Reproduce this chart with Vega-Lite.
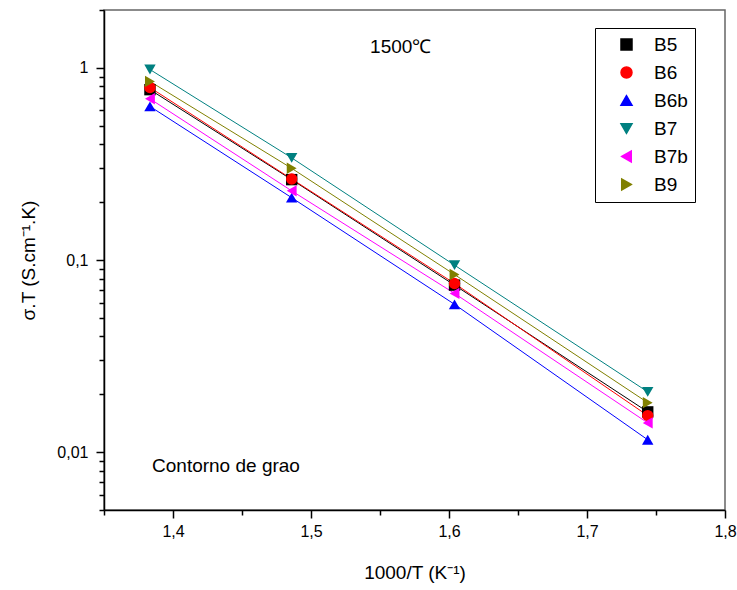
{
  "$schema": "https://vega.github.io/schema/vega-lite/v6.json",
  "width": 621,
  "height": 500,
  "autosize": "none",
  "padding": {"left": 104, "top": 10, "right": 12, "bottom": 80},
  "background": "white",
  "config": {
    "font": "Liberation Sans",
    "view": {"stroke": "#666666", "strokeWidth": 1.5},
    "axis": {"domainColor": "black", "domainWidth": 1.5, "tickColor": "black", "tickWidth": 1.5, "grid": false, "labelFont": "Liberation Sans", "titleFont": "Liberation Sans", "labelColor": "black", "titleColor": "black", "titleFontWeight": "normal"}
  },
  "datasets": {
    "pts": [
      {"s": "B5", "x": 1.3833, "y": 0.77}, {"s": "B5", "x": 1.486, "y": 0.262}, {"s": "B5", "x": 1.604, "y": 0.074}, {"s": "B5", "x": 1.744, "y": 0.0162},
      {"s": "B6", "x": 1.3833, "y": 0.79}, {"s": "B6", "x": 1.486, "y": 0.264}, {"s": "B6", "x": 1.604, "y": 0.0755}, {"s": "B6", "x": 1.744, "y": 0.0155},
      {"s": "B6b", "x": 1.3833, "y": 0.63}, {"s": "B6b", "x": 1.486, "y": 0.211}, {"s": "B6b", "x": 1.604, "y": 0.0588}, {"s": "B6b", "x": 1.744, "y": 0.0116},
      {"s": "B7", "x": 1.3833, "y": 0.98}, {"s": "B7", "x": 1.486, "y": 0.34}, {"s": "B7", "x": 1.604, "y": 0.094}, {"s": "B7", "x": 1.744, "y": 0.0206},
      {"s": "B7b", "x": 1.3833, "y": 0.69}, {"s": "B7b", "x": 1.486, "y": 0.229}, {"s": "B7b", "x": 1.604, "y": 0.067}, {"s": "B7b", "x": 1.744, "y": 0.0142},
      {"s": "B9", "x": 1.3833, "y": 0.85}, {"s": "B9", "x": 1.486, "y": 0.30}, {"s": "B9", "x": 1.604, "y": 0.084}, {"s": "B9", "x": 1.744, "y": 0.0181}
    ],
    "notes": [
      {"label": "1500℃"}
    ],
    "notes2": [
      {"label": "Contorno de grao"}
    ]
  },
  "layer": [
    {
      "data": {"name": "pts"},
      "mark": {"type": "line", "strokeWidth": 1},
      "encoding": {
        "x": {
          "field": "x", "type": "quantitative",
          "scale": {"domain": [1.35, 1.8], "nice": false, "zero": false},
          "axis": {
            "title": "1000/T (K⁻¹)", "titleFontSize": 19, "titlePadding": 24,
            "values": [1.35, 1.4, 1.45, 1.5, 1.55, 1.6, 1.65, 1.7, 1.75, 1.8],
            "labelExpr": "abs(datum.value*10 - round(datum.value*10)) < 0.001 ? replace(format(datum.value, '.1f'), '.', ',') : ''",
            "labelFontSize": 16, "labelPadding": 5, "labelFlush": false, "labelOverlap": false,
            "tickSize": {"condition": {"test": "abs(datum.value*10 - round(datum.value*10)) < 0.001", "value": 8}, "value": 5}
          }
        },
        "y": {
          "field": "y", "type": "quantitative",
          "scale": {"type": "log", "domain": [0.005, 2], "nice": false},
          "axis": {
            "title": "σ.T (S.cm⁻¹.K)", "titleFontSize": 19, "titlePadding": 18,
            "values": [0.005, 0.006, 0.007, 0.008, 0.009, 0.01, 0.02, 0.03, 0.04, 0.05, 0.06, 0.07, 0.08, 0.09, 0.1, 0.2, 0.3, 0.4, 0.5, 0.6, 0.7, 0.8, 0.9, 1, 2],
            "labelExpr": "datum.value == 1 ? '1' : datum.value == 0.1 ? '0,1' : datum.value == 0.01 ? '0,01' : ''",
            "labelFontSize": 16, "labelPadding": 8, "labelFlush": false, "labelOverlap": false,
            "tickSize": {"condition": {"test": "datum.value == 1 || datum.value == 0.1 || datum.value == 0.01", "value": 8}, "value": 5}
          }
        },
        "color": {"field": "s", "type": "nominal", "scale": {"domain": ["B5", "B6", "B6b", "B7", "B7b", "B9"], "range": ["#000000", "#FF0000", "#0000FF", "#008080", "#FF00FF", "#808000"]}}
      }
    },
    {
      "data": {"name": "pts"},
      "mark": {"type": "point", "filled": true, "opacity": 1, "size": 130},
      "encoding": {
        "x": {"field": "x", "type": "quantitative"},
        "y": {"field": "y", "type": "quantitative"},
        "color": {
          "field": "s", "type": "nominal",
          "legend": {
            "orient": "none", "legendX": 491, "legendY": 18, "title": null,
            "strokeColor": "black", "padding": 7, "fillColor": "white",
            "labelFontSize": 19, "labelFont": "Liberation Sans", "labelColor": "black",
            "labelOffset": 18, "symbolOffset": 15, "symbolSize": 121, "rowPadding": 8,
            "labelLimit": 100
          }
        },
        "shape": {"field": "s", "type": "nominal", "scale": {"domain": ["B5", "B6", "B6b", "B7", "B7b", "B9"], "range": ["square", "circle", "triangle-up", "triangle-down", "triangle-left", "triangle-right"]}}
      }
    },
    {
      "data": {"name": "notes"},
      "mark": {"type": "text", "fontSize": 19, "font": "Liberation Sans", "align": "center", "baseline": "middle", "color": "black"},
      "encoding": {"x": {"datum": 1.565, "type": "quantitative"}, "y": {"datum": 1.29, "type": "quantitative"}, "text": {"field": "label"}}
    },
    {
      "data": {"name": "notes2"},
      "mark": {"type": "text", "fontSize": 19, "font": "Liberation Sans", "align": "left", "baseline": "middle", "color": "black"},
      "encoding": {"x": {"datum": 1.3848, "type": "quantitative"}, "y": {"datum": 0.0085, "type": "quantitative"}, "text": {"field": "label"}}
    }
  ],
  "resolve": {"legend": {"color": "shared", "shape": "shared"}}
}
